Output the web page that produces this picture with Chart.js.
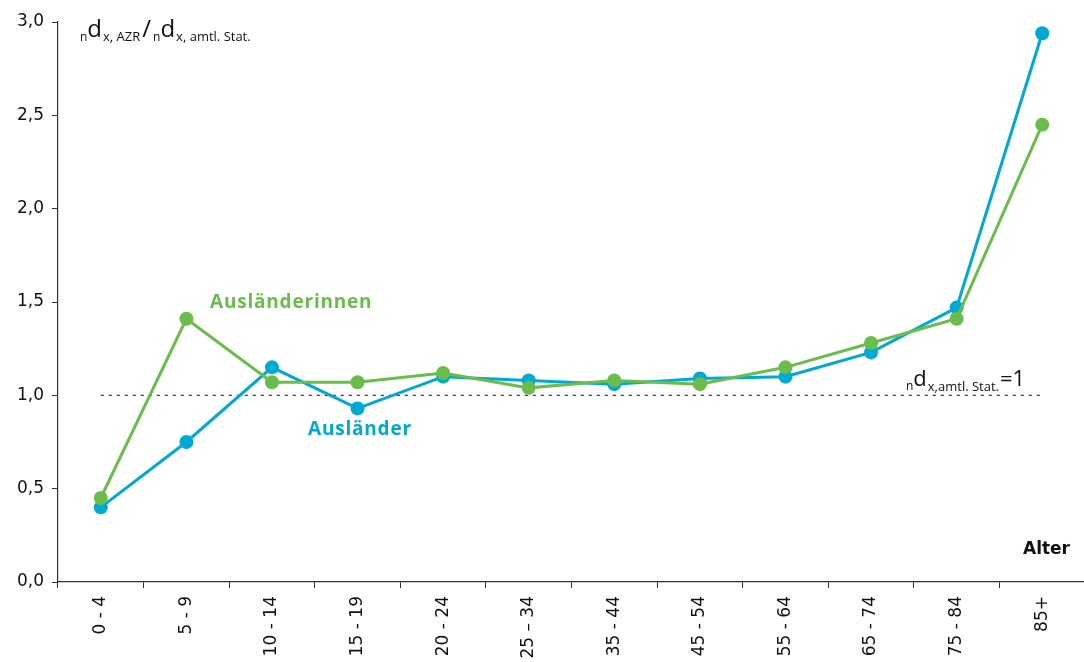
<!DOCTYPE html>
<html>
<head>
<meta charset="utf-8">
<script src="https://cdn.jsdelivr.net/npm/chart.js@4/dist/chart.umd.min.js"></script>
<style>
    html, body { margin: 0; padding: 0; background: #fff; overflow: hidden; }
    canvas { display: block; }
</style>
</head>
<body>
<canvas id="sterbeChart" width="1092" height="662"></canvas>
<script>
// Altersgruppen und Verhältnis nd_x,AZR / nd_x,amtl.Stat.
let ageGroups = ["0 - 4", "5 - 9", "10 - 14", "15 - 19", "20 - 24", "25 – 34", "35 - 44", "45 - 54", "55 - 64", "65 - 74", "75 - 84", "85+"];
let auslaender = [0.40, 0.75, 1.15, 0.93, 1.10, 1.08, 1.06, 1.09, 1.10, 1.23, 1.47, 2.94];
let auslaenderinnen = [0.45, 1.41, 1.07, 1.07, 1.12, 1.04, 1.08, 1.06, 1.15, 1.28, 1.41, 2.45];
let referenceLine = [1, 1, 1, 1, 1, 1, 1, 1, 1, 1, 1, 1];

const blue = "#00a9d4";
const green = "#6abd4b";

// draws a run of text pieces with different sizes / baseline shifts
function drawRuns(ctx, x, y, runs, family) {
    runs.forEach(r => {
        ctx.font = r[1] + "px " + family;
        ctx.fillText(r[0], x, y + r[2]);
        x += ctx.measureText(r[0]).width + (r[3] || 0);
    });
}

const labelPlugin = {
    id: "labels",
    afterDraw(chart) {
        let ctx = chart.ctx;
        let ys = chart.scales.y;
        ctx.save();
        ctx.textBaseline = "alphabetic";
        ctx.textAlign = "left";
        ctx.fillStyle = "#111";

        // Achsentitel oben links
        drawRuns(ctx, 80, 37, [
            ["n", 12, 4], ["d", 24, 0, 1], ["x, AZR", 13, 4, 2], ["/", 24, 0, 2],
            ["n", 12, 4], ["d", 24, 0, 1], ["x, amtl. Stat.", 13, 4]
        ], "'Open Sans'");

        // Referenzlinie beschriften
        drawRuns(ctx, 906, ys.getPixelForValue(1) - 9, [
            ["n", 12, 4], ["d", 22, 0, 1], ["x,amtl. Stat.", 13, 5, 1], ["=1", 22, 0]
        ], "'Open Sans'");

        // Serienbeschriftungen
        ctx.font = "bold 19px 'Open Sans'";
        ctx.letterSpacing = "0.8px";
        ctx.fillStyle = green;
        ctx.fillText("Ausländerinnen", 210, ys.getPixelForValue(1.47));
        ctx.fillStyle = blue;
        ctx.fillText("Ausländer", 308, ys.getPixelForValue(0.785));
        ctx.letterSpacing = "0px";

        // Achsenbeschriftung x
        ctx.font = "bold 17px 'DejaVu Sans'";
        ctx.fillStyle = "#111";
        ctx.textAlign = "right";
        ctx.fillText("Alter", 1070, 554);
        ctx.restore();
    }
};

let ctx = document.getElementById("sterbeChart").getContext("2d");
new Chart(ctx, {
    type: "line",
    data: {
        labels: ageGroups,
        datasets: [
            {
                label: "Ausländerinnen",
                data: auslaenderinnen,
                borderColor: green,
                backgroundColor: green,
                borderWidth: 3,
                pointRadius: 7,
                pointBorderWidth: 0,
                fill: false,
                order: 1
            },
            {
                label: "Ausländer",
                data: auslaender,
                borderColor: blue,
                backgroundColor: blue,
                borderWidth: 3,
                pointRadius: 7,
                pointBorderWidth: 0,
                fill: false,
                order: 2
            },
            {
                label: "Referenz",
                data: referenceLine,
                borderColor: "#333",
                borderWidth: 1.2,
                borderDash: [3, 5],
                pointRadius: 0,
                fill: false,
                order: 3
            }
        ]
    },
    options: {
        responsive: false,
        animation: false,
        layout: { padding: { top: 22, right: 2, left: 0, bottom: 0 } },
        plugins: {
            legend: { display: false },
            tooltip: { enabled: false }
        },
        scales: {
            x: {
                offset: true,
                grid: { offset: true, drawOnChartArea: false, drawTicks: true, tickLength: 6, color: "#333" },
                border: { color: "#333", width: 1.2 },
                ticks: {
                    minRotation: 90,
                    maxRotation: 90,
                    autoSkip: false,
                    padding: 8,
                    color: "#111",
                    font: { family: "'DejaVu Sans'", size: 17 }
                },
                afterFit: scale => { scale.height = 80; }
            },
            y: {
                min: 0,
                max: 3,
                ticks: {
                    stepSize: 0.5,
                    padding: 8,
                    color: "#111",
                    font: { family: "'DejaVu Sans'", size: 17 },
                    callback: v => v.toFixed(1).replace(".", ",")
                },
                grid: { drawOnChartArea: false, drawTicks: true, tickLength: 6, color: "#333" },
                border: { color: "#333", width: 1.2 },
                afterFit: scale => { scale.width = 58; }
            }
        }
    },
    plugins: [labelPlugin]
});
</script>
</body>
</html>
